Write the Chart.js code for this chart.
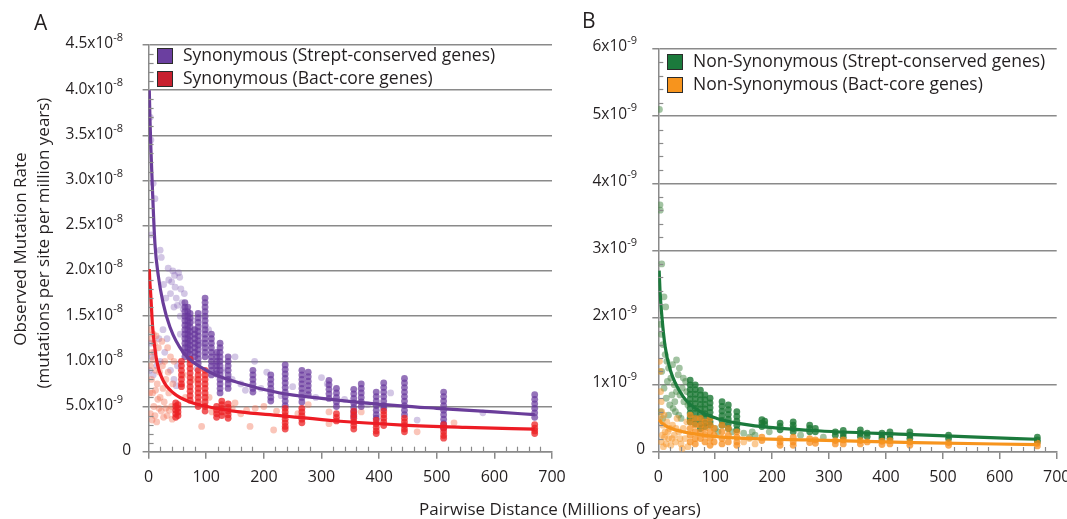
<!DOCTYPE html>
<html>
<head>
<meta charset="utf-8">
<script src="https://cdn.jsdelivr.net/npm/chart.js@4.4.1/dist/chart.umd.min.js"></script>
<style>
  html, body { margin: 0; padding: 0; background: #fff; }
  body { width: 1067px; height: 519px; position: relative; overflow: hidden; font-family: 'Open Sans', sans-serif; color: #231f20; }
  canvas { position: absolute; top: 0; }
  #chartA { left: 0; }
  #chartB { left: 560px; }
  .panel { position: absolute; font-size: 21px; line-height: 1; }
  .ytitle { position: absolute; font-size: 17px; white-space: nowrap; transform: translate(-50%, -50%) rotate(-90deg); line-height: 1; }
  .xtitle { position: absolute; font-size: 17px; white-space: nowrap; transform: translate(-50%, -50%); line-height: 1; }
  .legend { position: absolute; font-size: 17.5px; line-height: 1; }
  .legend div { position: relative; height: 23px; white-space: nowrap; }
  .legend span.box { position: absolute; left: 0; top: 0; width: 14px; height: 14px; border: 1px solid #2b2b2b; }
  .legend span.txt { position: absolute; top: -2px; left: 26px; }
</style>
</head>
<body>
<canvas id="chartA" width="575" height="500"></canvas>
<canvas id="chartB" width="520" height="500"></canvas>

<div class="panel" style="left:34px; top:12px;">A</div>
<div class="panel" style="left:582px; top:10px;">B</div>
<div class="ytitle" style="left:19px; top:249px;">Observed Mutation Rate</div>
<div class="ytitle" style="left:42px; top:243px;">(mutations per site per million years)</div>
<div class="xtitle" style="left:560px; top:508px;">Pairwise Distance (Millions of years)</div>

<div class="legend" id="legendA" style="left:157px; top:48px;"></div>
<div class="legend" id="legendB" style="left:667px; top:54px;"></div>

<script>
// ---- tick labels (value, mantissa text, exponent) ----
const leftTickValues = [0, 5, 10, 15, 20, 25, 30, 35, 40, 45];
const leftTickMain = ['0', '5.0x10', '1.0x10', '1.5x10', '2.0x10', '2.5x10', '3.0x10', '3.5x10', '4.0x10', '4.5x10'];
const leftTickExp = ['', '-9', '-8', '-8', '-8', '-8', '-8', '-8', '-8', '-8'];
const rightTickValues = [0, 1, 2, 3, 4, 5, 6];
const rightTickMain = ['0', '1x10', '2x10', '3x10', '4x10', '5x10', '6x10'];
const rightTickExp = ['', '-9', '-9', '-9', '-9', '-9', '-9'];

const legendLabelsA = ['Synonymous (Strept-conserved genes)', 'Synonymous (Bact-core genes)'];
const legendLabelsB = ['Non-Synonymous (Strept-conserved genes)', 'Non-Synonymous (Bact-core genes)'];

// ---- panel A data, rates in units of 1e-9 ----
// columns: [pairwise distance, [rates...]]
const synStreptCols = [
  [63, [16.5, 16, 15.5, 15, 14.5, 14, 13.5, 13, 12.5, 12, 11.5, 11, 10.5]],
  [68, [16, 15.5, 15, 14.5, 14, 13.5, 13, 12.5, 12, 11.5, 11]],
  [72, [15.3, 14.8, 14.3, 13.8, 13.3, 12.8, 12.3, 11.8, 11.3, 10.8, 10.3]],
  [80, [13.5, 13, 12.5, 12, 11.5, 11, 10.5]],
  [86, [15.3, 14.8, 14.3, 13.8, 13.3, 12.8, 12.3, 11.8, 11.3, 10.8, 10.3, 9.8]],
  [98, [17, 16.5, 16, 15.5, 15, 14.5, 14, 13.5, 13, 12.5, 12, 11.5, 11, 10.5]],
  [109, [13, 12.5, 12, 11.5, 11, 10.5, 10, 9.5, 9, 8.5]],
  [118, [11, 10.5, 10, 9.5, 9, 8.6]],
  [124, [12, 11.5, 11, 10.5, 10, 9.5, 9, 8.5, 8, 7.5, 7, 6.5]],
  [138, [10.5, 10, 9.5, 9, 8.5, 8, 7.5, 7]],
  [181, [9, 8.5, 8, 7.5, 7, 6.6]],
  [212, [8.5, 8, 7.5, 7, 6.5, 6, 5.6]],
  [237, [9.6, 9.1, 8.6, 8.1, 7.6, 7.1, 6.6, 6.1, 5.6, 5.1]],
  [266, [9, 8.5, 8, 7.5, 7, 6.5, 6, 5.5]],
  [277, [8.8, 8.3, 7.8, 7.3, 6.8, 6.3]],
  [313, [7.9, 7.4, 6.9, 6.4, 5.9]],
  [326, [7, 6.5, 6, 5.5, 5]],
  [356, [6.9, 6.4, 5.9, 5.4, 4.9, 4.4, 3.9]],
  [369, [7.5, 7, 6.5, 6, 5.5, 5]],
  [395, [6.6, 6.1, 5.6, 5.1, 4.6, 4.1, 3.7]],
  [408, [7.6, 7.1, 6.6, 6.1, 5.6, 5.1, 4.8]],
  [444, [8.1, 7.6, 7.1, 6.6, 6.1, 5.6, 5.1, 4.6, 4.1]],
  [512, [6.6, 6.1, 5.6, 5.1, 4.6, 4.1, 3.6, 3.1, 2.6]],
  [670, [6.3, 5.8, 5.3, 4.8, 4.3, 3.8]]
];
const synStreptScatter = [
  [3, 37], [4, 34.5], [5, 24], [8, 29.7], [11, 28], [20, 22.3], [22, 21.5], [34, 20.3], [42, 20],
  [45, 19.5], [54, 19.3], [35, 19], [38, 17.5], [48, 17], [52, 19.8], [56, 18], [58, 16.5], [60, 15.8],
  [40, 18.8], [46, 18.2], [50, 16.2], [55, 15], [44, 16], [62, 17.5], [30, 17], [26, 18.5],
  [4, 12], [6, 10.5], [10, 11], [14, 9.5], [18, 12.5], [25, 13.5], [28, 11], [38, 9], [44, 8],
  [48, 7.3], [50, 9.5], [32, 12.5], [2, 9], [8, 8.5], [20, 10], [55, 13], [76, 14.5], [84, 9.2],
  [90, 12], [104, 13.5], [115, 9.5], [130, 9], [145, 8], [160, 7.5], [168, 6.8], [150, 10.5],
  [184, 10], [195, 7], [205, 8.8], [250, 7.2], [290, 6], [310, 7.5], [340, 5.8], [380, 5.2],
  [420, 6.5], [466, 3.5], [580, 4.3], [230, 6.2], [300, 8.2]
];
const synBactCols = [
  [47, [5.4, 5, 4.6, 4.2, 3.8]],
  [51, [5.2, 4.8, 4.4, 4]],
  [57, [10, 9.5, 9, 8.5, 8, 7.5, 7.2]],
  [72, [10.2, 9.7, 9.2, 8.7, 8.2, 7.7, 7.2, 6.7, 6.2, 5.7]],
  [86, [9, 8.5, 8, 7.5, 7, 6.5, 6, 5.5, 5]],
  [98, [9, 8.5, 8, 7.5, 7, 6.5, 6, 5.5, 5, 4.5]],
  [118, [5, 4.6, 4.2, 3.8]],
  [127, [5.6, 5.2, 4.8, 4.4, 4]],
  [138, [5.3, 4.9, 4.5, 4.1, 3.7]],
  [237, [4.8, 4.4, 4, 3.6, 3.2, 2.8, 2.5]],
  [266, [4.8, 4.4, 4, 3.6, 3.2]],
  [326, [4.2, 3.8, 3.4]],
  [356, [4.5, 4.1, 3.7, 3.3, 2.9, 2.5]],
  [395, [3.5, 3.1, 2.7, 2.3, 2]],
  [408, [4.5, 4.1, 3.7, 3.3, 2.9]],
  [444, [3.7, 3.3, 2.9, 2.5, 2.2]],
  [512, [3, 2.6, 2.2, 1.8, 1.5]],
  [670, [3, 2.6, 2.3, 2]]
];
const synBactScatter = [
  [2, 13.5], [4, 12.5], [6, 11], [8, 13], [10, 12], [3, 9.5], [5, 8], [7, 6.5], [9, 5], [12, 9],
  [15, 7.5], [17, 11.5], [20, 6], [22, 4.5], [24, 9.5], [27, 5.5], [30, 8], [32, 4], [35, 6.5],
  [38, 10.5], [40, 5], [42, 7.5], [3, 4.2], [6, 3.5], [11, 4], [14, 3.3], [18, 4.8], [26, 3.8],
  [13, 12.8], [19, 8.8], [28, 10], [33, 11.5], [36, 4.6], [44, 10], [16, 5.8], [2, 6.5], [8, 10.2],
  [23, 12.2], [30, 4.8], [41, 3.6], [12, 6.8], [25, 7], [34, 8.8],
  [60, 8.5], [64, 6], [78, 8], [92, 2.8], [105, 6], [110, 4.4], [145, 4.8], [160, 4.2], [176, 2.8],
  [185, 4.8], [200, 5], [217, 2.4], [222, 4.5], [259, 4.2], [277, 5.2], [313, 4.4], [313, 3.1],
  [369, 4.4], [466, 2.2], [530, 3.2], [150, 5.4], [170, 4.6]
];
const synStreptFit = [
  [1.2, 40], [2.5, 36.5], [4, 33.5], [7, 28.5], [11, 23], [17, 19.4], [25, 16.5], [37, 13.8],
  [60, 11], [100, 9], [158, 7.6], [228, 6.5], [300, 5.9], [393, 5.3], [500, 4.8], [600, 4.4], [670, 4.1]
];
const synBactFit = [
  [1.2, 20.2], [2, 19], [3.6, 17.5], [7, 13.8], [14, 10.1], [25, 7.9], [43, 6.5], [72, 5.5],
  [101, 5], [158, 4.4], [228, 4], [326, 3.4], [441, 2.95], [550, 2.7], [670, 2.5]
];

// ---- panel B data, rates in units of 1e-9 ----
const nonSynStreptCols = [
  [56, [1.07, 1.0, 0.93, 0.86, 0.79, 0.72, 0.65, 0.58, 0.51, 0.45]],
  [65, [1.0, 0.93, 0.86, 0.79, 0.72, 0.65, 0.58, 0.5, 0.42]],
  [74, [0.92, 0.85, 0.78, 0.71, 0.64, 0.57, 0.5, 0.42, 0.35]],
  [82, [0.85, 0.78, 0.71, 0.64, 0.57, 0.5, 0.43, 0.38]],
  [91, [0.8, 0.73, 0.66, 0.59, 0.52, 0.45, 0.4]],
  [112, [0.75, 0.68, 0.61, 0.54, 0.47, 0.4]],
  [123, [0.7, 0.63, 0.56, 0.49, 0.42, 0.35]],
  [138, [0.6, 0.53, 0.46, 0.4, 0.33]],
  [182, [0.48, 0.43, 0.38]],
  [187, [0.46, 0.41]],
  [214, [0.43, 0.38, 0.33]],
  [237, [0.45, 0.4, 0.35, 0.3]],
  [266, [0.4, 0.35, 0.3]],
  [276, [0.35, 0.3]],
  [311, [0.3, 0.25]],
  [325, [0.32, 0.27, 0.22]],
  [355, [0.33, 0.28, 0.23]],
  [367, [0.28, 0.23]],
  [393, [0.28, 0.24, 0.2]],
  [407, [0.3, 0.25, 0.2]],
  [442, [0.3, 0.25, 0.2]],
  [510, [0.25, 0.2]],
  [666, [0.22, 0.18, 0.15]]
];
const nonSynStreptScatter = [
  [2, 5.1], [3, 3.68], [3.5, 3.6], [6, 2.8], [10, 2.31], [13, 2.16], [3, 1.9], [5, 1.75], [8, 1.6],
  [12, 1.45], [15, 1.35], [18, 1.25], [22, 1.1], [25, 1.3], [28, 1.0], [32, 1.37], [37, 1.25],
  [32, 0.9], [35, 1.15], [38, 0.85], [42, 0.95], [45, 0.75], [48, 1.05], [6, 1.2], [10, 0.95],
  [14, 0.8], [20, 0.7], [26, 0.65], [30, 0.6], [36, 0.55], [50, 0.9], [4, 0.6], [8, 0.5], [40, 0.5],
  [16, 1.05], [24, 0.85], [44, 1.1], [52, 0.7], [29, 0.75], [18, 0.55],
  [100, 0.35], [105, 0.3], [130, 0.3], [150, 0.28], [160, 0.22], [165, 0.3], [170, 0.25],
  [195, 0.3], [250, 0.25], [290, 0.22]
];
const nonSynBactCols = [
  [56, [0.55, 0.45, 0.35, 0.25, 0.15]],
  [65, [0.5, 0.4, 0.3, 0.2, 0.12]],
  [74, [0.5, 0.4, 0.3, 0.2]],
  [82, [0.45, 0.35, 0.25, 0.15]],
  [91, [0.5, 0.4, 0.3, 0.2, 0.1]],
  [98, [0.35, 0.25, 0.15]],
  [112, [0.4, 0.3, 0.2, 0.12]],
  [123, [0.35, 0.25, 0.15]],
  [138, [0.3, 0.22, 0.15, 0.1]],
  [182, [0.22, 0.17]],
  [214, [0.2, 0.15, 0.1]],
  [237, [0.22, 0.15, 0.1]],
  [266, [0.2, 0.14]],
  [276, [0.18, 0.13]],
  [311, [0.17, 0.12]],
  [325, [0.18, 0.12]],
  [355, [0.17, 0.12]],
  [367, [0.15]],
  [393, [0.16, 0.11]],
  [407, [0.17, 0.12]],
  [442, [0.15, 0.1]],
  [510, [0.14, 0.1]],
  [666, [0.13, 0.09]]
];
const nonSynBactScatter = [
  [2, 1.35], [3, 1.2], [4, 0.9], [5, 0.75], [6, 0.6], [3, 0.5], [8, 0.4], [10, 0.55], [12, 0.3],
  [15, 0.45], [18, 0.2], [20, 0.35], [22, 0.1], [25, 0.4], [28, 0.25], [30, 0.15], [33, 0.5],
  [36, 0.3], [40, 0.12], [44, 0.35], [47, 0.2], [50, 0.45], [52, 0.08], [5, 0.15], [9, 0.08],
  [14, 0.12], [11, 0.22], [17, 0.3], [24, 0.2], [31, 0.35], [38, 0.2], [42, 0.05], [7, 0.25],
  [150, 0.15], [160, 0.2], [170, 0.12]
];
const nonSynStreptFit = [
  [1.5, 2.7], [3, 2.4], [6.5, 2.0], [12, 1.57], [21, 1.22], [44, 0.82], [74, 0.6], [103, 0.5],
  [161, 0.4], [270, 0.32], [448, 0.26], [560, 0.22], [665, 0.19]
];
const nonSynBactFit = [
  [1.5, 0.48], [5, 0.44], [15, 0.38], [44, 0.3], [103, 0.23], [260, 0.18], [450, 0.14], [666, 0.11]
];

Chart.defaults.font.family = "'Open Sans', sans-serif";
Chart.defaults.color = '#231f20';

const axisGray = '#8a8a8a';

function colPoints(cols) {
  return cols.flatMap(([x, ys]) => ys.map(y => ({ x, y })));
}

function pairPoints(pairs) {
  return pairs.map(([x, y]) => ({ x, y }));
}

// minor ticks drawn inside the plot area, majors are the grid ticks outside
const minorTicks = {
  id: 'minorTicks',
  afterDraw(chart) {
    const { ctx, scales: { x, y } } = chart;
    ctx.save();
    ctx.strokeStyle = axisGray;
    ctx.lineWidth = 1.2;
    const yStep = y.options.ticks.stepSize / 5;
    const yCount = Math.round((y.max - y.min) / yStep);
    for (let i = 1; i < yCount; i++) {
      if (i % 5 === 0) continue;
      const py = Math.round(y.getPixelForValue(y.min + i * yStep)) + 0.5;
      ctx.beginPath();
      ctx.moveTo(x.left, py);
      ctx.lineTo(x.left + 5, py);
      ctx.stroke();
    }
    const xStep = x.options.ticks.stepSize / 5;
    const xCount = Math.round((x.max - x.min) / xStep);
    for (let i = 1; i < xCount; i++) {
      if (i % 5 === 0) continue;
      const px = Math.round(x.getPixelForValue(x.min + i * xStep)) + 0.5;
      ctx.beginPath();
      ctx.moveTo(px, y.bottom);
      ctx.lineTo(px, y.bottom - 5);
      ctx.stroke();
    }
    ctx.restore();
  }
};

// y tick labels with a superscript exponent
const yLabels = {
  id: 'yLabels',
  afterDraw(chart, args, opts) {
    const { ctx } = chart;
    const y = chart.scales.y;
    ctx.save();
    ctx.fillStyle = '#231f20';
    ctx.textBaseline = 'middle';
    ctx.textAlign = 'right';
    opts.values.forEach((v, i) => {
      const py = y.getPixelForValue(v) + opts.dy;
      const main = opts.main[i];
      const exp = opts.exp[i];
      if (!exp) {
        ctx.font = `${opts.size}px 'Open Sans'`;
        ctx.fillText(main, opts.zeroRight, py);
        return;
      }
      ctx.font = `${opts.expSize}px 'Open Sans'`;
      const ew = ctx.measureText(exp).width;
      ctx.fillText(exp, opts.right, py - 6);
      ctx.font = `${opts.size}px 'Open Sans'`;
      ctx.fillText(main, opts.right - ew, py);
    });
    ctx.restore();
  }
};

function scatterSet(label, data, color, order) {
  return { label, data, backgroundColor: color, borderWidth: 0, pointRadius: 3.4, pointHoverRadius: 3.4, order };
}

function fitSet(label, data, color, order) {
  return {
    label, data, borderColor: color, borderWidth: 3.2, showLine: true, pointRadius: 0,
    cubicInterpolationMode: 'monotone', fill: false, order
  };
}

function renderPanel(canvasId, datasets, yMax, yStep, plotBox, labelOpts) {
  const ctx = document.getElementById(canvasId).getContext('2d');
  return new Chart(ctx, {
    type: 'scatter',
    data: { datasets },
    options: {
      responsive: false,
      animation: false,
      events: [],
      layout: { padding: { left: 0, top: plotBox.top, right: plotBox.right, bottom: 0 } },
      plugins: {
        legend: { display: false },
        tooltip: { enabled: false },
        yLabels: labelOpts
      },
      scales: {
        x: {
          type: 'linear',
          min: 0,
          max: 700,
          ticks: { stepSize: 100, font: { size: 16 }, padding: 9, color: '#231f20' },
          grid: { drawOnChartArea: false, drawTicks: true, tickLength: 7, tickColor: axisGray, lineWidth: 1.5 },
          border: { display: true, color: axisGray, width: 1.5 },
          afterFit: s => { s.height = plotBox.xHeight; }
        },
        y: {
          type: 'linear',
          min: 0,
          max: yMax,
          ticks: { stepSize: yStep, display: false },
          grid: { color: axisGray, lineWidth: 1.5, drawTicks: true, tickLength: 6, tickColor: axisGray },
          border: { display: true, color: axisGray, width: 1.5 },
          afterFit: s => { s.width = plotBox.yWidth; }
        }
      }
    },
    plugins: [minorTicks, yLabels]
  });
}

function renderLegend(id, labels, colors) {
  const el = document.getElementById(id);
  el.innerHTML = labels.map((t, i) =>
    `<div><span class="box" style="background:${colors[i]}"></span><span class="txt">${t}</span></div>`
  ).join('');
}

const purple = '#6a3d9a';
const red = '#ed1c24';
const green = '#1b7a3c';
const orange = '#f7941d';

renderPanel('chartA', [
  fitSet('fit strept', pairPoints(synStreptFit), purple, 0),
  fitSet('fit bact', pairPoints(synBactFit), red, 1),
  scatterSet('bact cols', colPoints(synBactCols), 'rgba(236,34,36,0.75)', 2),
  scatterSet('strept cols', colPoints(synStreptCols), 'rgba(104,56,156,0.7)', 3),
  scatterSet('bact scatter', pairPoints(synBactScatter), 'rgba(242,110,80,0.4)', 4),
  scatterSet('strept scatter', pairPoints(synStreptScatter), 'rgba(130,95,180,0.35)', 5)
], 45, 5,
  { top: 45, right: 23, yWidth: 148.6, xHeight: 48.3 },
  { values: leftTickValues, main: leftTickMain, exp: leftTickExp, size: 15.5, expSize: 11, right: 123, zeroRight: 131, dy: -1 });

renderPanel('chartB', [
  fitSet('fit strept', pairPoints(nonSynStreptFit), green, 0),
  fitSet('fit bact', pairPoints(nonSynBactFit), orange, 1),
  scatterSet('bact cols', colPoints(nonSynBactCols), 'rgba(247,142,30,0.75)', 2),
  scatterSet('strept cols', colPoints(nonSynStreptCols), 'rgba(28,120,52,0.8)', 3),
  scatterSet('bact scatter', pairPoints(nonSynBactScatter), 'rgba(247,150,40,0.5)', 4),
  scatterSet('strept scatter', pairPoints(nonSynStreptScatter), 'rgba(70,135,70,0.5)', 5)
], 6, 1,
  { top: 49, right: 23.3, yWidth: 98.3, xHeight: 48 },
  { values: rightTickValues, main: rightTickMain, exp: rightTickExp, size: 15.5, expSize: 11, right: 77, zeroRight: 85, dy: -2 });

renderLegend('legendA', legendLabelsA, ['#6b3fa0', '#c8202f']);
renderLegend('legendB', legendLabelsB, ['#1b7a3c', '#f7941d']);
</script>
</body>
</html>
